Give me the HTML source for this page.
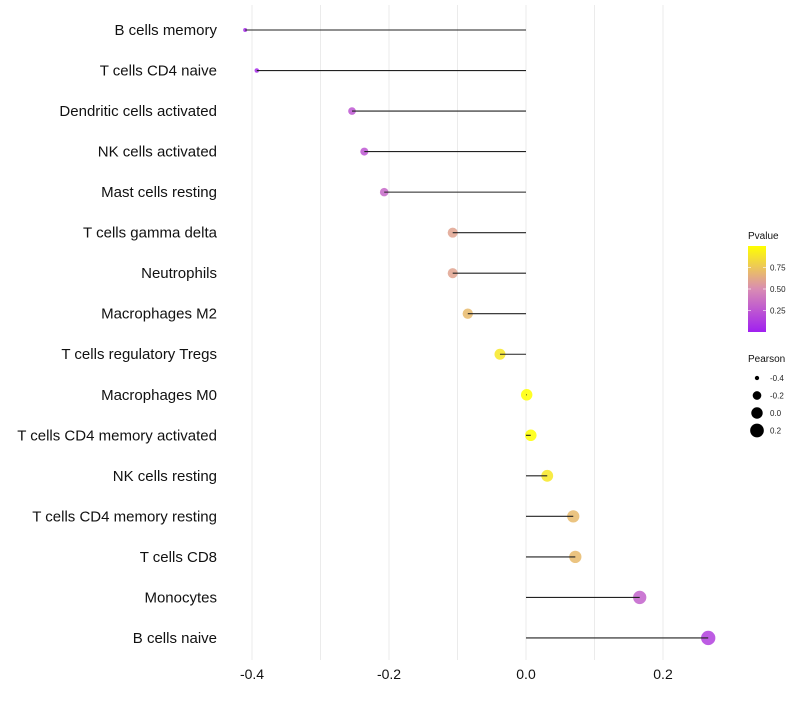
<!DOCTYPE html>
<html><head><meta charset="utf-8"><style>
body{margin:0;background:#fff;font-family:"Liberation Sans",sans-serif}
</style></head><body>
<svg id="c" width="800" height="700" xmlns="http://www.w3.org/2000/svg"></svg>
<script>
const categories=["B cells memory","T cells CD4 naive","Dendritic cells activated","NK cells activated","Mast cells resting","T cells gamma delta","Neutrophils","Macrophages M2","T cells regulatory  Tregs ","Macrophages M0","T cells CD4 memory activated","NK cells resting","T cells CD4 memory resting","T cells CD8","Monocytes","B cells naive"];
const pearson=[-0.410,-0.393,-0.254,-0.236,-0.207,-0.107,-0.107,-0.085,-0.038,0.001,0.007,0.031,0.069,0.072,0.166,0.266];
const pvalue=[0.05,0.05,0.25,0.25,0.33,0.6,0.6,0.7,0.9,1.0,1.0,0.9,0.7,0.7,0.3,0.15];
const xTicks=[-0.4,-0.2,0.0,0.2];
const gridTicks=[-0.4,-0.3,-0.2,-0.1,0,0.1,0.2];
const pTicks=[0.25,0.5,0.75];
const sizeTicks=[-0.4,-0.2,0.0,0.2];
const NS="http://www.w3.org/2000/svg",svg=document.getElementById('c');
const X=v=>526+v*685;
const Y=i=>30+i*40.53;
const R=v=>Math.sqrt(Math.max(1,4+70*(v+0.41)));
function col(p){const a=[160,32,240],m=[217,140,179],b=[255,255,0];let c;
 if(p<0.5){const t=p/0.5;c=a.map((x,k)=>x+(m[k]-x)*t);}else{const t=(p-0.5)/0.5;c=m.map((x,k)=>x+(b[k]-x)*t);}
 return `rgb(${c.map(Math.round).join(',')})`;}
function el(t,at,txt){const e=document.createElementNS(NS,t);for(const k in at)e.setAttribute(k,at[k]);if(txt!=null)e.textContent=txt;svg.appendChild(e);return e;}
gridTicks.forEach(v=>{const g=el('line',{x1:X(v),x2:X(v),y1:5,y2:660,stroke:'#ebebeb','stroke-width':1});

});
xTicks.forEach(v=>{const t=el('text',{x:X(v),y:679,'text-anchor':'middle','font-size':14,fill:'#111'},v===0?'0.0':v.toFixed(1));

});
categories.forEach((c,i)=>{
 const t=el('text',{x:217,y:Y(i)+5,'text-anchor':'end','font-size':15,fill:'#111'},c);
 
 
 const p=el('circle',{cx:X(pearson[i]),cy:Y(i),r:R(pearson[i]),fill:col(pvalue[i]),'fill-opacity':0.85});
 
 
 const l=el('line',{x1:X(0),x2:X(pearson[i]),y1:Y(i),y2:Y(i),stroke:'#222','stroke-width':1.1});
 
 
});
const lt=el('text',{x:748,y:239,'font-size':10,fill:'#111'},'Pvalue');


const defs=el('defs',{});
const lg=document.createElementNS(NS,'linearGradient');lg.setAttribute('id','g');lg.setAttribute('x1',0);lg.setAttribute('y1',1);lg.setAttribute('x2',0);lg.setAttribute('y2',0);
[0,0.25,0.5,0.75,1].forEach(o=>{const s=document.createElementNS(NS,'stop');s.setAttribute('offset',o);s.setAttribute('stop-color',col(o));lg.appendChild(s);});
defs.appendChild(lg);
const bar=el('rect',{x:748,y:246,width:18,height:86,fill:'url(#g)'});


pTicks.forEach(v=>{const y=332-v*86;
 el('line',{x1:748,x2:751,y1:y,y2:y,stroke:'#fff','stroke-opacity':0.6});
 el('line',{x1:763,x2:766,y1:y,y2:y,stroke:'#fff','stroke-opacity':0.6});
 const t=el('text',{x:770,y:y+3,'font-size':8,fill:'#222'},v.toFixed(2));
 
 });
const st=el('text',{x:748,y:362,'font-size':10,fill:'#111'},'Pearson');


sizeTicks.forEach((v,i)=>{const y=378+i*17.5;
 const c=el('circle',{cx:757,cy:y,r:R(v),fill:'#000'});
 
 
 const t=el('text',{x:770,y:y+3,'font-size':8,fill:'#222'},v===0?'0.0':String(v));
 
 });
</script>
</body></html>
